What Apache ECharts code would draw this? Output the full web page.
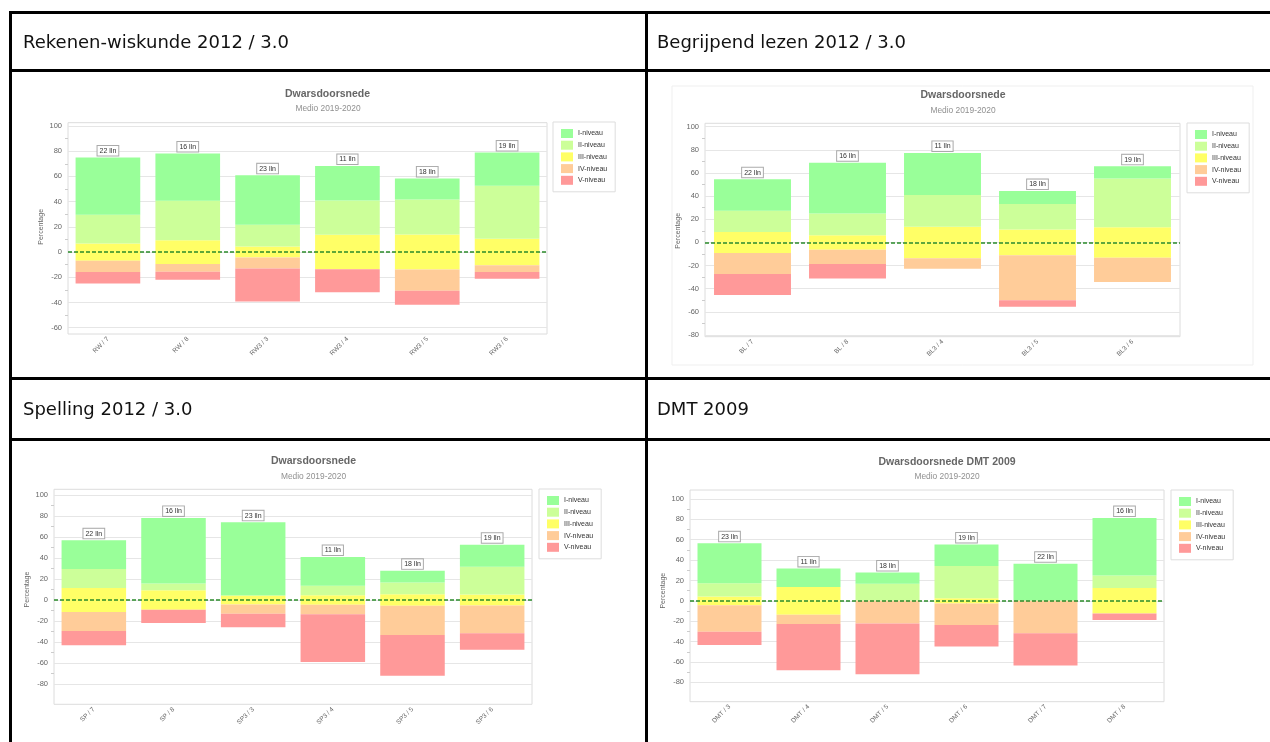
<!DOCTYPE html>
<html>
<head>
<meta charset="utf-8">
<script src="https://cdn.jsdelivr.net/npm/echarts@6/dist/echarts.min.js"></script>
<style>
  html, body { margin: 0; padding: 0; background: #fff; width: 1270px; height: 742px; overflow: hidden; }
  #chart { position: absolute; left: 0; top: 0; width: 1270px; height: 742px; }
  .ln { position: absolute; background: #000; }
  .hd { position: absolute; font-family: 'DejaVu Sans', Verdana, sans-serif; font-size: 18px; line-height: 18px; color: #111; white-space: nowrap; }
</style>
</head>
<body>
<div id="chart"></div>
<!-- table lines -->
<div class="ln" style="left:9px;top:11px;width:1261px;height:3px;"></div>
<div class="ln" style="left:9px;top:69px;width:1261px;height:3px;"></div>
<div class="ln" style="left:9px;top:377px;width:1261px;height:3px;"></div>
<div class="ln" style="left:9px;top:438px;width:1261px;height:3px;"></div>
<div class="ln" style="left:9px;top:11px;width:3px;height:731px;"></div>
<div class="ln" style="left:645px;top:11px;width:3px;height:731px;"></div>
<!-- header texts -->
<div class="hd" style="left:23px;top:33px;">Rekenen-wiskunde 2012 / 3.0</div>
<div class="hd" style="left:657px;top:33px;">Begrijpend lezen 2012 / 3.0</div>
<div class="hd" style="left:23px;top:400px;">Spelling 2012 / 3.0</div>
<div class="hd" style="left:657px;top:400px;">DMT 2009</div>
<script>
// ---------------- DATA ----------------
const LEVELS = ['I-niveau', 'II-niveau', 'III-niveau', 'IV-niveau', 'V-niveau'];

const rwCategories = ['RW / 7', 'RW / 8', 'RW3 / 3', 'RW3 / 4', 'RW3 / 5', 'RW3 / 6'];
const rwCounts = [22, 16, 23, 11, 18, 19];
const rwLevelI   = [45.5, 37.5, 39.1, 27.3, 16.7, 26.3];
const rwLevelII  = [22.7, 31.3, 17.4, 27.3, 27.8, 42.1];
const rwLevelIII = [13.6, 18.8, 8.7, 27.3, 27.8, 21.1];
const rwLevelIV  = [9.1, 6.3, 8.7, 0, 16.7, 5.3];
const rwLevelV   = [9.1, 6.3, 26.1, 18.2, 11.1, 5.3];
const rwYRange = [-60, 100];

const blCategories = ['BL / 7', 'BL / 8', 'BL3 / 4', 'BL3 / 5', 'BL3 / 6'];
const blCounts = [22, 16, 11, 18, 19];
const blLevelI   = [27.3, 43.8, 36.4, 11.1, 10.5];
const blLevelII  = [18.2, 18.8, 27.3, 22.2, 42.1];
const blLevelIII = [18.2, 12.5, 27.3, 22.2, 26.3];
const blLevelIV  = [18.2, 12.5, 9.1, 38.9, 21.1];
const blLevelV   = [18.2, 12.5, 0, 5.6, 0];
const blYRange = [-80, 100];

const spCategories = ['SP / 7', 'SP / 8', 'SP3 / 3', 'SP3 / 4', 'SP3 / 5', 'SP3 / 6'];
const spCounts = [22, 16, 23, 11, 18, 19];
const spLevelI   = [27.3, 62.5, 69.6, 27.3, 11.1, 21.1];
const spLevelII  = [18.2, 6.3, 0, 9.1, 11.1, 26.3];
const spLevelIII = [22.7, 18.8, 8.7, 9.1, 11.1, 10.5];
const spLevelIV  = [18.2, 0, 8.7, 9.1, 27.8, 26.3];
const spLevelV   = [13.6, 12.5, 13.0, 45.5, 38.9, 15.8];
const spYRange = [-80, 100];

const dmtCategories = ['DMT / 3', 'DMT / 4', 'DMT / 5', 'DMT / 6', 'DMT / 7', 'DMT / 8'];
const dmtCounts = [23, 11, 18, 19, 22, 16];
const dmtLevelI   = [39.1, 18.2, 11.1, 21.1, 36.4, 56.3];
const dmtLevelII  = [13.0, 0, 16.7, 31.6, 0, 12.5];
const dmtLevelIII = [8.7, 27.3, 0, 5.3, 0, 25.0];
const dmtLevelIV  = [26.1, 9.1, 22.2, 21.1, 31.8, 0];
const dmtLevelV   = [13.0, 45.5, 50.0, 21.1, 31.8, 6.3];
const dmtYRange = [-80, 100];

// ---------------- STYLE / LAYOUT ----------------
const LEVEL_COLORS = ['#99ff99', '#ccff99', '#ffff66', '#ffcc99', '#ff9999'];
const FONT = "'Liberation Sans', Arial, sans-serif";

const charts = [
  { title: 'Dwarsdoorsnede', cats: rwCategories, counts: rwCounts,
    lv: [rwLevelI, rwLevelII, rwLevelIII, rwLevelIV, rwLevelV], yr: rwYRange,
    frame: [68, 122.7, 547, 334], plotTop: 126, plotBottom: 327.7,
    titlePos: [327.5, 88.2], subPos: [328, 105], legendPos: [553, 122] },
  { title: 'Dwarsdoorsnede', cats: blCategories, counts: blCounts,
    lv: [blLevelI, blLevelII, blLevelIII, blLevelIV, blLevelV], yr: blYRange,
    frame: [705, 123.3, 1180, 336.7], plotTop: 126.7, plotBottom: 335,
    titlePos: [963, 90], subPos: [963, 107], legendPos: [1187, 123] },
  { title: 'Dwarsdoorsnede', cats: spCategories, counts: spCounts,
    lv: [spLevelI, spLevelII, spLevelIII, spLevelIV, spLevelV], yr: spYRange,
    frame: [54, 489.3, 532, 704.3], plotTop: 495, plotBottom: 684,
    titlePos: [313.5, 455.5], subPos: [313.5, 472.5], legendPos: [539, 489] },
  { title: 'Dwarsdoorsnede DMT 2009', cats: dmtCategories, counts: dmtCounts,
    lv: [dmtLevelI, dmtLevelII, dmtLevelIII, dmtLevelIV, dmtLevelV], yr: dmtYRange,
    frame: [690, 490, 1164, 701.7], plotTop: 499, plotBottom: 682.3,
    titlePos: [947, 456.5], subPos: [947, 472.8], legendPos: [1171, 490] }
];

const option = { animation: false, title: [], legend: [], grid: [], xAxis: [], yAxis: [], series: [] };

charts.forEach((c, k) => {
  const f = c.frame;
  option.grid.push({ left: f[0], top: c.plotTop, width: f[2] - f[0], height: c.plotBottom - c.plotTop, show: false });

  option.title.push({ text: c.title, left: c.titlePos[0], top: c.titlePos[1], textAlign: 'center', textVerticalAlign: 'top', padding: 0,
    textStyle: { fontSize: 10.5, fontWeight: 'bold', color: '#666', fontFamily: FONT } });
  option.title.push({ text: 'Medio 2019-2020', left: c.subPos[0], top: c.subPos[1], textAlign: 'center', textVerticalAlign: 'top', padding: 0,
    textStyle: { fontSize: 8.4, fontWeight: 'normal', color: '#909090', fontFamily: FONT } });

  option.legend.push({ left: c.legendPos[0], top: c.legendPos[1], orient: 'vertical', data: LEVELS, icon: 'rect',
    itemWidth: 12, itemHeight: 9, itemGap: 2.7, padding: [7, 8, 7, 8], borderColor: '#ddd', borderWidth: 1,
    backgroundColor: '#fff', selectedMode: false,
    textStyle: { fontSize: 7, color: '#333', fontFamily: FONT } });

  option.xAxis.push({ type: 'category', gridIndex: k, data: c.cats, position: 'bottom', offset: f[3] - c.plotBottom,
    axisLine: { show: false },
    axisTick: { show: true, alignWithLabel: true, length: 4, lineStyle: { color: '#ccc' } },
    axisLabel: { rotate: 45, fontSize: 6.5, color: '#666', margin: 4, fontFamily: FONT },
    splitLine: { show: false } });

  option.yAxis.push({ type: 'value', gridIndex: k, min: c.yr[0], max: c.yr[1], interval: 20,
    name: 'Percentage', nameLocation: 'middle', nameRotate: 90, nameGap: 23,
    nameTextStyle: { fontSize: 7, color: '#666', fontFamily: FONT },
    axisLine: { show: false }, axisTick: { show: false },
    minorTick: { show: true, splitNumber: 2, length: 3, lineStyle: { color: '#ccc' } },
    axisLabel: { fontSize: 7.5, color: '#666', margin: 6, fontFamily: FONT },
    splitLine: { lineStyle: { color: '#e6e6e6', width: 1 } } });

  const base = (name, colorIdx, data) => ({
    name: name, type: 'bar', stack: 'st' + k, xAxisIndex: k, yAxisIndex: k, barWidth: '81%',
    itemStyle: { color: LEVEL_COLORS[colorIdx] }, data: data, emphasis: { disabled: true }
  });
  const [I, II, III, IV, V] = c.lv;
  const s3p = base(LEVELS[2], 2, III.map(v => v / 2));
  s3p.markLine = { silent: true, symbol: 'none', animation: false,
    label: { show: false },
    lineStyle: { type: [4, 2], color: '#2a8a2a', width: 1.6 },
    data: [{ yAxis: 0 }] };
  const s2 = base(LEVELS[1], 1, II);
  const s1 = base(LEVELS[0], 0, I);
  const counts = c.counts;
  s1.label = { show: true, position: 'top', distance: 2,
    formatter: p => counts[p.dataIndex] + ' lln',
    fontSize: 7, color: '#333', fontFamily: FONT, backgroundColor: '#fff',
    borderColor: '#aaa', borderWidth: 1, padding: [1.5, 2, 1, 2] };
  const s3n = base(LEVELS[2], 2, III.map(v => -v / 2));
  const s4 = base(LEVELS[3], 3, IV.map(v => -v));
  const s5 = base(LEVELS[4], 4, V.map(v => -v));
  option.series.push(s3p, s2, s1, s3n, s4, s5);
});

// plot frames
charts.forEach(c => {
  const f = c.frame;
  option.grid.push({ left: f[0], top: f[1], width: f[2] - f[0], height: f[3] - f[1], show: true,
    borderColor: '#dcdcdc', borderWidth: 1, backgroundColor: 'transparent' });
});
// faint image border of the second chart
option.grid.push({ left: 672, top: 86, width: 581, height: 279, show: true, borderColor: '#efefef', borderWidth: 1, backgroundColor: 'transparent' });

const chart = echarts.init(document.getElementById('chart'), null, { renderer: 'canvas' });
chart.setOption(option);
</script>
</body>
</html>
